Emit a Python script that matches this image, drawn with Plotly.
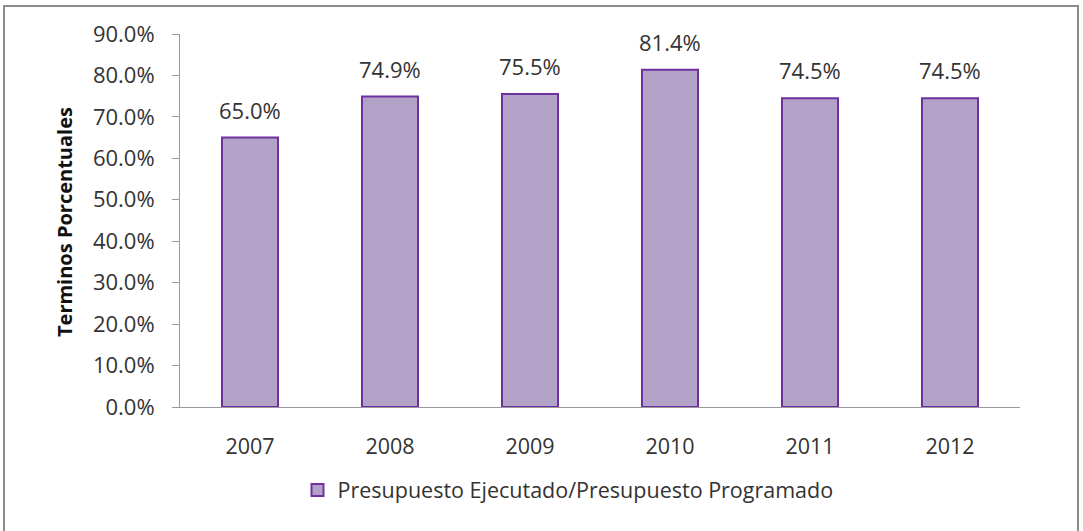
import plotly.graph_objects as go

years = ["2007", "2008", "2009", "2010", "2011", "2012"]
values = [0.650, 0.749, 0.755, 0.814, 0.745, 0.745]
labels = ["65.0%", "74.9%", "75.5%", "81.4%", "74.5%", "74.5%"]
series_name = "Presupuesto Ejecutado/Presupuesto Programado"
y_title = "Terminos Porcentuales"
y_ticks = [0.0, 0.1, 0.2, 0.3, 0.4, 0.5, 0.6, 0.7, 0.8, 0.9]

FONT = "Open Sans"
TXT = "#333333"

fig = go.Figure()
fig.add_trace(go.Bar(
    x=years, y=values, name=series_name,
    marker=dict(color="#B3A2C7", line=dict(color="#7030A0", width=2)),
    width=0.4,
))

L, R, T, B = 180, 63, 34, 124
W, H = 1083, 531
pw = W - L - R
ph = H - T - B

def px_x(p):
    return (p - L) / pw

def px_y(p):
    return (H - B - p) / ph

for i, (v, lab) in enumerate(zip(values, labels)):
    fig.add_annotation(x=i, y=v, text=lab, showarrow=False,
                       yanchor="bottom", yshift=11,
                       font=dict(family=FONT, size=22, color=TXT))

fig.add_annotation(xref="paper", yref="paper", x=px_x(64), y=px_y(222),
                   text="<b>" + y_title + "</b>", textangle=-90, showarrow=False,
                   xanchor="center", yanchor="middle",
                   font=dict(family=FONT, size=20, color="#111111"))

fig.add_shape(type="rect", xref="paper", yref="paper",
              x0=px_x(4), x1=px_x(1078), y0=px_y(545), y1=px_y(6),
              line=dict(color="#8c8c8c", width=2), fillcolor="rgba(0,0,0,0)")

fig.update_layout(
    width=W, height=H,
    margin=dict(l=L, r=R, t=T, b=B),
    paper_bgcolor="white", plot_bgcolor="white",
    showlegend=True,
    legend=dict(orientation="h", x=px_x(568), xanchor="center",
                y=px_y(490), yanchor="middle", itemwidth=30,
                font=dict(family=FONT, size=21.5, color=TXT)),
    xaxis=dict(type="category", categoryorder="array", categoryarray=years,
               range=[-0.5, len(years) - 0.5],
               showline=True, linecolor="#999999", linewidth=1,
               ticks="", showgrid=False, ticklabelstandoff=20,
               tickfont=dict(family=FONT, size=21.5, color=TXT)),
    yaxis=dict(range=[0, 0.9], tickvals=y_ticks, tickformat=".1%",
               showline=True, linecolor="#999999", linewidth=1,
               ticks="outside", ticklen=7, tickcolor="#999999",
               showgrid=False, zeroline=False, ticklabelstandoff=13,
               tickfont=dict(family=FONT, size=22, color=TXT)),
)

fig.write_html("out.html", config={"displayModeBar": False},
               post_script="document.body.style.margin='0';")
